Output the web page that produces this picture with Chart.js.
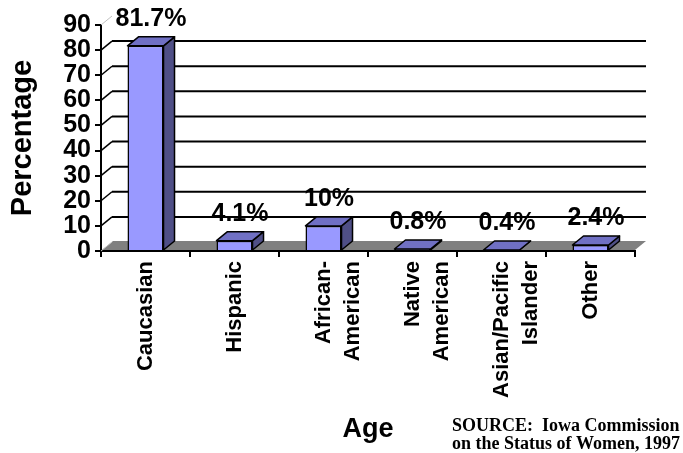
<!DOCTYPE html>
<html>
<head>
<meta charset="utf-8">
<script src="https://cdn.jsdelivr.net/npm/chart.js@4.4.1/dist/chart.umd.min.js"></script>
<style>
  html, body { margin: 0; padding: 0; background: #fff; overflow: hidden; }
  #wrap { width: 683px; height: 453px; position: relative; }
</style>
</head>
<body>
<div id="wrap"><canvas id="myChart"></canvas></div>
<script>
const categories = ["Caucasian", "Hispanic", ["African-", "American"], ["Native", "American"], ["Asian/Pacific", "Islander"], "Other"];
const percentages = [81.7, 4.1, 10, 0.8, 0.4, 2.4];
const yTicks = [0, 10, 20, 30, 40, 50, 60, 70, 80, 90];
const sourceLines = ["SOURCE:  Iowa Commission", "on the Status of Women, 1997"];

const depth = { x: 11, y: 9 };
const sans = "'Liberation Sans', Arial, sans-serif";
const serif = "'Liberation Serif', 'Times New Roman', serif";

// fakes the excel 3d look: floor, back wall lines, bar tops and sides
const bars3d = {
  id: "bars3d",
  beforeDatasetsDraw(chart) {
    const { ctx, chartArea: a, scales } = chart;
    ctx.save();
    ctx.fillStyle = "#808080";
    ctx.beginPath();
    ctx.moveTo(a.left + 1, a.bottom - 1);
    ctx.lineTo(a.right, a.bottom - 1);
    ctx.lineTo(a.right + depth.x, a.bottom - 1 - depth.y);
    ctx.lineTo(a.left + 1 + depth.x, a.bottom - 1 - depth.y);
    ctx.closePath();
    ctx.fill();

    yTicks.forEach((t, i) => {
      const py = scales.y.getPixelForValue(t);
      const edge = i === 0 || i === yTicks.length - 1;
      ctx.strokeStyle = edge ? "#c0c0c0" : "#000";
      ctx.lineWidth = edge ? 1 : 1.5;
      ctx.beginPath();
      ctx.moveTo(a.left, py);
      ctx.lineTo(a.left + depth.x, py - depth.y);
      ctx.stroke();
      if (!edge) {
        ctx.lineWidth = 2;
        ctx.beginPath();
        ctx.moveTo(a.left + depth.x, py - depth.y);
        ctx.lineTo(a.right + depth.x, py - depth.y);
        ctx.stroke();
      }
    });
    ctx.restore();
  },
  afterDatasetsDraw(chart) {
    const { ctx } = chart;
    const meta = chart.getDatasetMeta(0);
    ctx.save();
    ctx.strokeStyle = "#000";
    ctx.lineWidth = 1.5;
    ctx.lineJoin = "round";
    meta.data.forEach((bar, i) => {
      const { x, y, base, width } = bar.getProps(["x", "y", "base", "width"], true);
      const x0 = x - width / 2;
      const x1 = x + width / 2;
      // side
      ctx.fillStyle = "#4f4f86";
      ctx.beginPath();
      ctx.moveTo(x1, y);
      ctx.lineTo(x1 + depth.x, y - depth.y);
      ctx.lineTo(x1 + depth.x, base - depth.y);
      ctx.lineTo(x1, base);
      ctx.closePath();
      ctx.fill();
      ctx.stroke();
      // top
      ctx.fillStyle = "#7070c4";
      ctx.beginPath();
      ctx.moveTo(x0, y);
      ctx.lineTo(x1, y);
      ctx.lineTo(x1 + depth.x, y - depth.y);
      ctx.lineTo(x0 + depth.x, y - depth.y);
      ctx.closePath();
      ctx.fill();
      ctx.stroke();

      ctx.fillStyle = "#000";
      ctx.font = `bold 25px ${sans}`;
      ctx.textAlign = "center";
      ctx.textBaseline = "alphabetic";
      ctx.fillText(percentages[i] + "%", x + depth.x / 2, y - depth.y - 11);
    });
    ctx.restore();
  },
  afterDraw(chart) {
    const { ctx } = chart;
    ctx.save();
    ctx.fillStyle = "#000";
    ctx.font = `bold 18px ${serif}`;
    ctx.textAlign = "left";
    ctx.textBaseline = "alphabetic";
    sourceLines.forEach((line, i) => ctx.fillText(line, 452, 431 + i * 18));
    ctx.restore();
  },
};

const info = {
  labels: categories,
  datasets: [
    {
      data: percentages,
      backgroundColor: "#9999ff",
      borderColor: "#000",
      borderWidth: 1.5,
      barPercentage: 0.405,
      categoryPercentage: 1,
    },
  ],
};

const options = {
  responsive: true,
  maintainAspectRatio: false,
  animation: false,
  layout: { padding: { top: 25, right: 48, left: 0, bottom: 0 } },
  plugins: {
    legend: { display: false },
    tooltip: { enabled: false },
  },
  scales: {
    x: {
      afterFit: (s) => { s.height = 202; },
      grid: { drawOnChartArea: false, offset: true, tickLength: 6, color: "#000", lineWidth: 2 },
      border: { color: "#000", width: 2 },
      ticks: {
        color: "#000",
        font: { family: sans, size: 22, weight: "bold", lineHeight: 1.35 },
        minRotation: 90,
        maxRotation: 90,
        autoSkip: false,
        padding: 4,
      },
      title: {
        display: true,
        text: "Age",
        color: "#000",
        font: { family: sans, size: 27, weight: "bold" },
        padding: { top: 0, bottom: 7 },
      },
    },
    y: {
      min: 0,
      max: 90,
      afterFit: (s) => { s.width = 101; },
      afterBuildTicks: (s) => { s.ticks = yTicks.map((v) => ({ value: v })); },
      grid: { drawOnChartArea: false, tickLength: 6, color: "#000", lineWidth: 2 },
      border: { color: "#000", width: 2 },
      ticks: {
        color: "#000",
        font: { family: sans, size: 25, weight: "bold" },
        padding: 4,
        autoSkip: false,
      },
      title: {
        display: true,
        text: "Percentage",
        color: "#000",
        font: { family: sans, size: 29, weight: "bold" },
        padding: { top: 6, bottom: 0 },
      },
    },
  },
};

new Chart(document.getElementById("myChart"), {
  type: "bar",
  data: info,
  options,
  plugins: [bars3d],
});
</script>
</body>
</html>
